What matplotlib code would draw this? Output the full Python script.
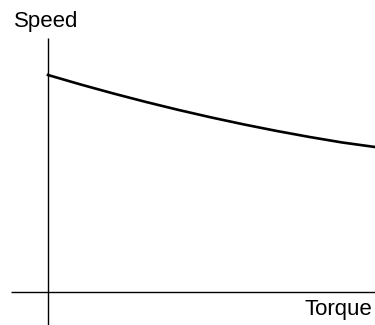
import matplotlib
matplotlib.use("Agg")
import matplotlib.pyplot as plt

# Torque-speed curve (arbitrary units)
torque = [0, 1, 2, 3, 4, 5, 6, 7, 8, 9, 10]
speed = [8.68, 8.30, 7.94, 7.60, 7.28, 6.98, 6.70, 6.44, 6.20, 5.98, 5.80]

x_label = "Torque"
y_label = "Speed"

plt.rcParams["font.family"] = ["Liberation Sans", "DejaVu Sans"]

fig = plt.figure(figsize=(3.75, 3.25), dpi=100)
ax = fig.add_axes([0, 0, 1, 1])
ax.set_xlim(-48 / 32.7, 10.0)
ax.set_ylim(-33 / 25, 292 / 25)
ax.axis("off")

# axes drawn as plain lines
ax.plot([0, 0], [-33 / 25, 10.16], color="black", lw=1.0, solid_capstyle="butt")
ax.plot([-1.13, 10.0], [0, 0], color="black", lw=1.0, solid_capstyle="butt")

ax.plot(torque, speed, color="black", lw=1.9)

ax.text(-1.03, 10.6, y_label, fontsize=16, ha="left", va="baseline")
ax.text(9.91, -0.92, x_label, fontsize=16, ha="right", va="baseline")

fig.savefig("out.png", dpi=100)
